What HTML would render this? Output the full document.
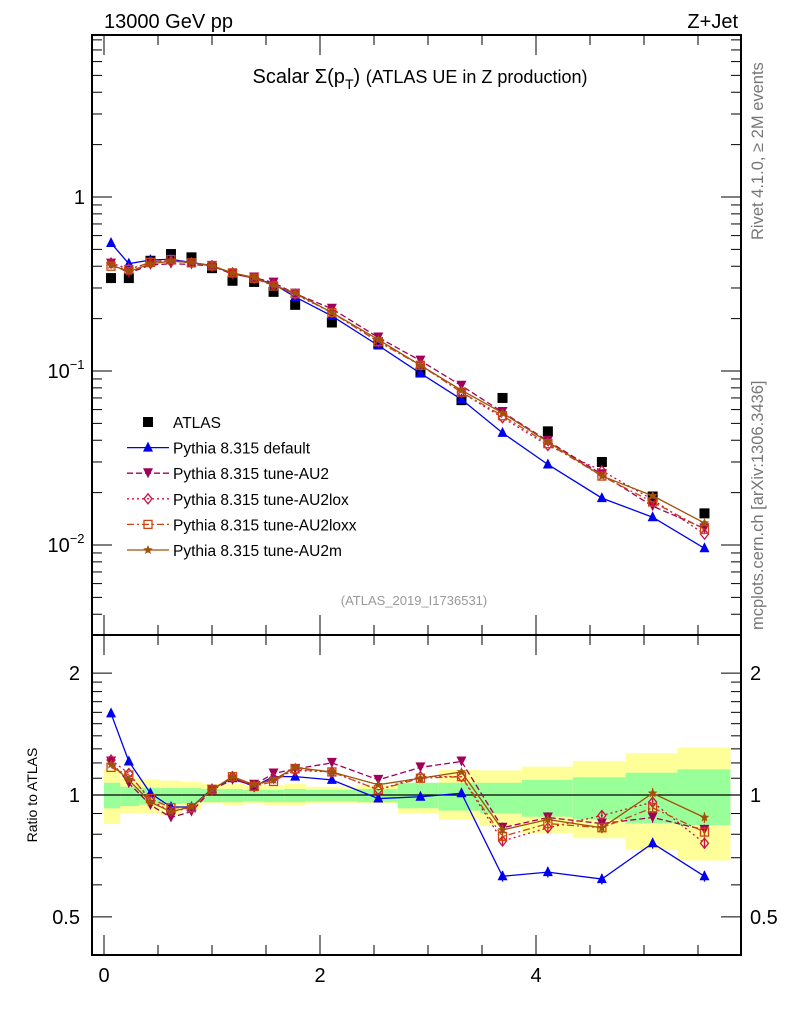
<!DOCTYPE html>
<html><head><meta charset="utf-8"><style>
body{margin:0;background:#fff;}
svg{display:block;font-family:"Liberation Sans",sans-serif;}
</style></head><body>
<svg id="c" width="786" height="1024" xmlns="http://www.w3.org/2000/svg">
<text x="104" y="28" font-size="20">13000 GeV pp</text>
<text x="738" y="28" font-size="20" text-anchor="end">Z+Jet</text>
<text x="420" y="83" font-size="20" text-anchor="middle">Scalar Σ(p<tspan font-size="14" dy="6">T</tspan><tspan dy="-6">) </tspan><tspan font-size="18">(ATLAS UE in Z production)</tspan></text>
<text x="414" y="605" font-size="13" fill="#999" text-anchor="middle">(ATLAS_2019_I1736531)</text>
<text transform="translate(763,240) rotate(-90)" font-size="16.5" fill="#777">Rivet 4.1.0, ≥ 2M events</text>
<text transform="translate(763,630) rotate(-90)" font-size="16.5" fill="#777">mcplots.cern.ch [arXiv:1306.3436]</text>
<text transform="translate(37,795) rotate(-90)" font-size="14" text-anchor="middle">Ratio to ATLAS</text>
<g id="g"></g>
</svg>
<script>
const xVals=[0.065,0.23,0.43,0.62,0.81,1.0,1.19,1.39,1.57,1.77,2.11,2.54,2.93,3.31,3.69,4.11,4.61,5.08,5.56];
const binEdges=[0,0.15,0.33,0.52,0.72,0.9,1.1,1.29,1.48,1.67,1.87,2.34,2.72,3.1,3.48,3.87,4.34,4.83,5.31,5.8];
const atlas=[0.342,0.342,0.43,0.47,0.45,0.39,0.33,0.325,0.285,0.24,0.19,0.143,0.098,0.068,0.070,0.045,0.030,0.019,0.0152];
const rDefault=[1.59,1.21,1.01,0.934,0.934,1.035,1.10,1.05,1.11,1.11,1.09,0.98,0.99,1.01,0.63,0.645,0.62,0.76,0.63];
const rAU2=[1.21,1.07,0.945,0.88,0.91,1.03,1.09,1.06,1.13,1.16,1.2,1.09,1.17,1.21,0.83,0.88,0.85,0.88,0.82];
const rAU2lox=[1.22,1.13,0.97,0.91,0.93,1.03,1.11,1.05,1.10,1.15,1.14,1.03,1.11,1.11,0.77,0.83,0.89,0.96,0.76];
const rAU2loxx=[1.17,1.12,0.98,0.93,0.93,1.03,1.11,1.05,1.08,1.16,1.14,1.03,1.10,1.11,0.79,0.85,0.83,0.93,0.81];
const rAU2m=[1.19,1.09,0.96,0.91,0.935,1.03,1.11,1.06,1.09,1.17,1.14,1.06,1.10,1.14,0.82,0.87,0.83,1.01,0.88];
const yelUp=[1.153,1.10,1.093,1.085,1.079,1.065,1.069,1.058,1.058,1.065,1.048,1.058,1.058,1.153,1.15,1.175,1.213,1.268,1.311];
const yelDn=[0.848,0.901,0.901,0.893,0.918,0.954,0.945,0.954,0.945,0.945,0.954,0.954,0.901,0.868,0.838,0.804,0.782,0.731,0.689];
const grnUp=[1.072,1.048,1.042,1.04,1.04,1.035,1.035,1.03,1.03,1.035,1.03,1.035,1.072,1.072,1.072,1.089,1.106,1.135,1.157];
const grnDn=[0.927,0.939,0.948,0.95,0.955,0.96,0.96,0.965,0.96,0.96,0.965,0.96,0.927,0.915,0.901,0.884,0.87,0.851,0.843];
const xTicks=[0,2,4];

const L=92,R=741,T=35,M=635,B=955;
const X=v=>104+108*v;
const Ym=v=>197-174*Math.log10(v);
const Yr=v=>795-405*Math.log10(v);
const NS="http://www.w3.org/2000/svg";
const g=document.getElementById('g');
function el(tag,attrs,parent){const e=document.createElementNS(NS,tag);for(const k in attrs)e.setAttribute(k,attrs[k]);(parent||g).appendChild(e);return e;}

const bands=el('g',{});


for(let i=0;i<xVals.length;i++){
  const x0=X(binEdges[i]),x1=X(binEdges[i+1]);
  const y=el('rect',{x:x0,y:Yr(yelUp[i]),width:x1-x0,height:Yr(yelDn[i])-Yr(yelUp[i]),fill:'#ffff99'},bands);
  
  
  const gr=el('rect',{x:x0,y:Yr(grnUp[i]),width:x1-x0,height:Yr(grnDn[i])-Yr(grnUp[i]),fill:'#99ff99'},bands);
  
  
}
const one=el('line',{x1:L,x2:R,y1:Yr(1),y2:Yr(1),stroke:'#000','stroke-width':1.2});



for(const [y0,y1,n] of [[T,M,'main-frame'],[M,B,'ratio-frame']]){
  const f=el('rect',{x:L,y:y0,width:R-L,height:y1-y0,fill:'none',stroke:'#000','stroke-width':2});
  
  
}
for(let d=-3;d<=0;d++){for(let k=1;k<10;k++){const v=k*Math.pow(10,d);const y=Ym(v);if(y<T||y>M)continue;const len=k==1?20:10;
  el('line',{x1:L,x2:L+len,y1:y,y2:y,stroke:'#000','stroke-width':1});el('line',{x1:R,x2:R-len,y1:y,y2:y,stroke:'#000','stroke-width':1});}}
const yl=[[1,'1',''],[0.1,'10','−1'],[0.01,'10','−2']];
for(const [v,b,e] of yl){const t=el('text',{x:e?66:85,y:Ym(v)+7,'font-size':20,'text-anchor':e?'middle':'end'});t.textContent=b;
  
  
  if(e){const s=el('tspan',{'font-size':13,dy:-9});s.textContent=e;t.appendChild(s);}}
const rt=[0.5,0.6,0.7,0.8,0.9,1,1.1,1.2,1.3,1.4,1.5,1.6,1.7,1.8,1.9,2];
for(const v of rt){const y=Yr(v);const maj=(v==0.5||v==1||v==2);const len=maj?20:10;
  el('line',{x1:L,x2:L+len,y1:y,y2:y,stroke:'#000'});el('line',{x1:R,x2:R-len,y1:y,y2:y,stroke:'#000'});
  if(maj){const s=v==0.5?'0.5':String(v);
    const a=el('text',{x:80,y:y+7,'font-size':20,'text-anchor':'end'});a.textContent=s;
    
    
    const b=el('text',{x:750,y:y+7,'font-size':20});b.textContent=s;
    
    }}
for(let v=0;v<=5.5;v+=0.5){const x=X(v);const maj=v%2==0;const len=maj?20:10;
  for(const [y0,dir] of [[B,-1],[M,-1],[M,1],[T,1]]){el('line',{x1:x,x2:x,y1:y0,y2:y0+dir*len,stroke:'#000'});}}
for(const v of xTicks){const t=el('text',{x:X(v),y:982,'font-size':20,'text-anchor':'middle'});t.textContent=String(v);
  
  }

function marker(type,x,y,c,parent,s){
  s=s||5;
  if(type=='sq')return el('rect',{x:x-s,y:y-s,width:2*s,height:2*s,fill:c},parent);
  if(type=='tu')return el('polygon',{points:`${x},${y-s-1} ${x-s},${y+s-1} ${x+s},${y+s-1}`,fill:c},parent);
  if(type=='td')return el('polygon',{points:`${x},${y+s} ${x-s},${y-s} ${x+s},${y-s}`,fill:c},parent);
  if(type=='di')return el('polygon',{points:`${x},${y-s} ${x-s+1},${y} ${x},${y+s} ${x+s-1},${y}`,fill:'none',stroke:c,'stroke-width':1.3},parent);
  if(type=='os')return el('rect',{x:x-s+1,y:y-s+1,width:2*s-2,height:2*s-2,fill:'none',stroke:c,'stroke-width':1.3},parent);
  if(type=='st'){let p=[];for(let i=0;i<10;i++){const r=i%2?s*0.45:s;const a=-Math.PI/2+i*Math.PI/5;p.push((x+r*Math.cos(a))+','+(y+r*Math.sin(a)));}return el('polygon',{points:p.join(' '),fill:c},parent);}
}
const series=[
 {name:'default',r:rDefault,c:'#0000ee',m:'tu',dash:'',label:'Pythia 8.315 default'},
 {name:'au2',r:rAU2,c:'#a0005a',m:'td',dash:'6,3',label:'Pythia 8.315 tune-AU2'},
 {name:'au2lox',r:rAU2lox,c:'#cc1144',m:'di',dash:'2,3',label:'Pythia 8.315 tune-AU2lox'},
 {name:'au2loxx',r:rAU2loxx,c:'#cc4411',m:'os',dash:'7,3,2,3',label:'Pythia 8.315 tune-AU2loxx'},
 {name:'au2m',r:rAU2m,c:'#a0520a',m:'st',dash:'',label:'Pythia 8.315 tune-AU2m'}
];
const dg=el('g',{});


atlas.forEach((v,i)=>{const m=marker('sq',X(xVals[i]),Ym(v),'#000',dg);
  
  });
for(const s of series){
  const gm=el('g',{});
  
  
  const pm=xVals.map((x,i)=>X(x)+','+Ym(s.r[i]*atlas[i])).join(' ');
  el('polyline',{points:pm,fill:'none',stroke:s.c,'stroke-width':1.3,'stroke-dasharray':s.dash},gm);
  xVals.forEach((x,i)=>{const m=marker(s.m,X(x),Ym(s.r[i]*atlas[i]),s.c,gm);
    
    });
  const gr=el('g',{});
  
  
  const pr=xVals.map((x,i)=>X(x)+','+Yr(s.r[i])).join(' ');
  el('polyline',{points:pr,fill:'none',stroke:s.c,'stroke-width':1.3,'stroke-dasharray':s.dash},gr);
  xVals.forEach((x,i)=>{
    if(i>=14){const e=0.03*s.r[i];el('line',{x1:X(x),x2:X(x),y1:Yr(s.r[i]+e),y2:Yr(s.r[i]-e),stroke:s.c,'stroke-width':1.3},gr);}
    const m=marker(s.m,X(x),Yr(s.r[i]),s.c,gr);
    
    });
}
const lg=el('g',{});


const le=[{label:'ATLAS',m:'sq',c:'#000',dash:null}].concat(series);
le.forEach((s,i)=>{const y=422+i*25.6;
  const eg=el('g',{},lg);
  
  
  if(s.dash!==null)el('line',{x1:127,x2:169,y1:y,y2:y,stroke:s.c,'stroke-width':1.3,'stroke-dasharray':s.dash},eg);
  marker(s.m,148,y,s.c,eg);
  const t=el('text',{x:173,y:y+6,'font-size':15.5},eg);t.textContent=s.label;});
</script>
</body></html>
